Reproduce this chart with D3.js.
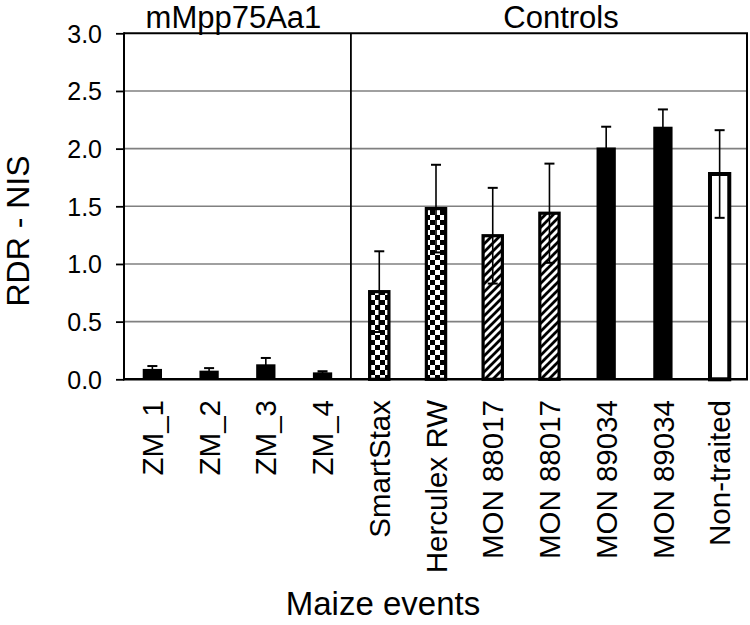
<!DOCTYPE html>
<html><head><meta charset="utf-8">
<script src="https://cdn.jsdelivr.net/npm/d3@7"></script>
<style>body{margin:0;background:#fff}text{font-family:"Liberation Sans",Arial,sans-serif;fill:#000}</style>
</head><body>
<svg id="c" width="750" height="625"></svg>
<script>
const categories = ["ZM_1","ZM_2","ZM_3","ZM_4","SmartStax","Herculex RW","MON 88017","MON 88017","MON 89034","MON 89034","Non-traited"];
const values = [0.09,0.075,0.13,0.06,0.76,1.48,1.245,1.44,2.01,2.19,1.78];
const errors = [0.025,0.022,0.055,0.01,0.35,0.38,0.415,0.43,0.18,0.15,0.38];
const fills = ["solid","solid","solid","solid","checker","checker","hatch","hatch","solid","solid","open"];
const groupLabels = ["mMpp75Aa1","Controls"];
const yTicks = [0,0.5,1,1.5,2,2.5,3];

const svg = d3.select("#c");
const L=124, R=748, T=33.3, B=379.3;
const idx = d3.range(categories.length);
const x = d3.scaleBand().domain(idx).range([L,R]).paddingInner(0.66).paddingOuter(0.33);
const y = d3.scaleLinear().domain([0,3]).range([B,T]);

const defs = svg.append("defs");
const ck = defs.append("pattern").attr("id","checker").attr("patternUnits","userSpaceOnUse").attr("width",10).attr("height",10);
ck.append("rect").attr("width",10).attr("height",10).attr("fill","#fff");
ck.append("rect").attr("width",5).attr("height",5).attr("fill","#000");
ck.append("rect").attr("x",5).attr("y",5).attr("width",5).attr("height",5).attr("fill","#000");
const ht = defs.append("pattern").attr("id","hatch").attr("patternUnits","userSpaceOnUse").attr("width",8).attr("height",8);
ht.append("rect").attr("width",8).attr("height",8).attr("fill","#fff");
ht.append("path").attr("d","M-2,10 L10,-2 M-2,2 L2,-2 M6,10 L10,6").attr("stroke","#000").attr("stroke-width",2.8);

// gridlines
svg.append("g").selectAll("line").data(yTicks.filter(t=>t>0&&t<3)).join("line")
  .attr("x1",L).attr("x2",R).attr("y1",d=>y(d)).attr("y2",d=>y(d))
  .attr("stroke","#808080").attr("stroke-width",1.6);

// y axis
const yAxis = d3.axisLeft(y).tickValues(yTicks).tickFormat(d3.format(".1f")).tickSize(8).tickPadding(14);
const ga = svg.append("g").attr("transform",`translate(${L},0)`).call(yAxis);
ga.select(".domain").remove();
ga.selectAll(".tick line").attr("stroke","#000").attr("stroke-width",1.8);
ga.selectAll(".tick text").attr("font-size",25).attr("font-family","Liberation Sans, Arial, sans-serif").attr("fill","#000").attr("dy","0.36em");

// frame
svg.append("line").attr("x1",L).attr("x2",R).attr("y1",T).attr("y2",T).attr("stroke","#000").attr("stroke-width",2);
svg.append("line").attr("x1",R-1).attr("x2",R-1).attr("y1",T).attr("y2",B).attr("stroke","#000").attr("stroke-width",2);
const divX = (x(3)+x.bandwidth()+x(4))/2;
svg.append("line").attr("x1",divX).attr("x2",divX).attr("y1",T).attr("y2",B).attr("stroke","#000").attr("stroke-width",1.8);

// bars
const bars = svg.append("g");
idx.forEach(i=>{
  const f = fills[i];
  const w = x.bandwidth();
  const r = bars.append("rect").attr("x",x(i)).attr("width",w)
    .attr("y",y(values[i])).attr("height",y(0)-y(values[i]));
  if(f==="solid") r.attr("fill","#000");
  else if(f==="open") r.attr("fill","#fff").attr("stroke","#000").attr("stroke-width",4);
  else r.attr("fill",`url(#${f})`).attr("stroke","#000").attr("stroke-width",3.2);
});

// error bars
const eg = svg.append("g").attr("stroke","#000").attr("stroke-width",1.6);
idx.forEach(i=>{
  const cx = x(i)+x.bandwidth()/2;
  const hi = y(values[i]+errors[i]), lo = y(Math.max(0,values[i]-errors[i]));
  eg.append("line").attr("x1",cx).attr("x2",cx).attr("y1",hi).attr("y2",lo);
  eg.append("line").attr("x1",cx-5).attr("x2",cx+5).attr("y1",hi).attr("y2",hi).attr("stroke-width",2);
  eg.append("line").attr("x1",cx-5).attr("x2",cx+5).attr("y1",lo).attr("y2",lo).attr("stroke-width",2);
});

// bottom axis line
svg.append("line").attr("x1",L-1).attr("x2",R).attr("y1",B).attr("y2",B).attr("stroke","#000").attr("stroke-width",2.4);
svg.append("line").attr("x1",L).attr("x2",L).attr("y1",T-1).attr("y2",B+1).attr("stroke","#000").attr("stroke-width",2);

// x labels
svg.append("g").selectAll("text").data(idx).join("text")
  .attr("transform",d=>`translate(${x(d)+x.bandwidth()/2},400) rotate(-90)`)
  .attr("text-anchor","end").attr("dy","0.36em").attr("font-size",29.5)
  .text(d=>categories[d]);

// group headers
svg.append("text").attr("x",(L+divX)/2-4).attr("y",28).attr("text-anchor","middle").attr("font-size",31).text(groupLabels[0]);
svg.append("text").attr("x",561).attr("y",28).attr("text-anchor","middle").attr("font-size",31).text(groupLabels[1]);

// axis titles
svg.append("text").attr("transform","translate(29,231) rotate(-90)").attr("text-anchor","middle").attr("font-size",32).text("RDR - NIS");
svg.append("text").attr("x",383).attr("y",615).attr("text-anchor","middle").attr("font-size",33).text("Maize events");
</script>
</body></html>
